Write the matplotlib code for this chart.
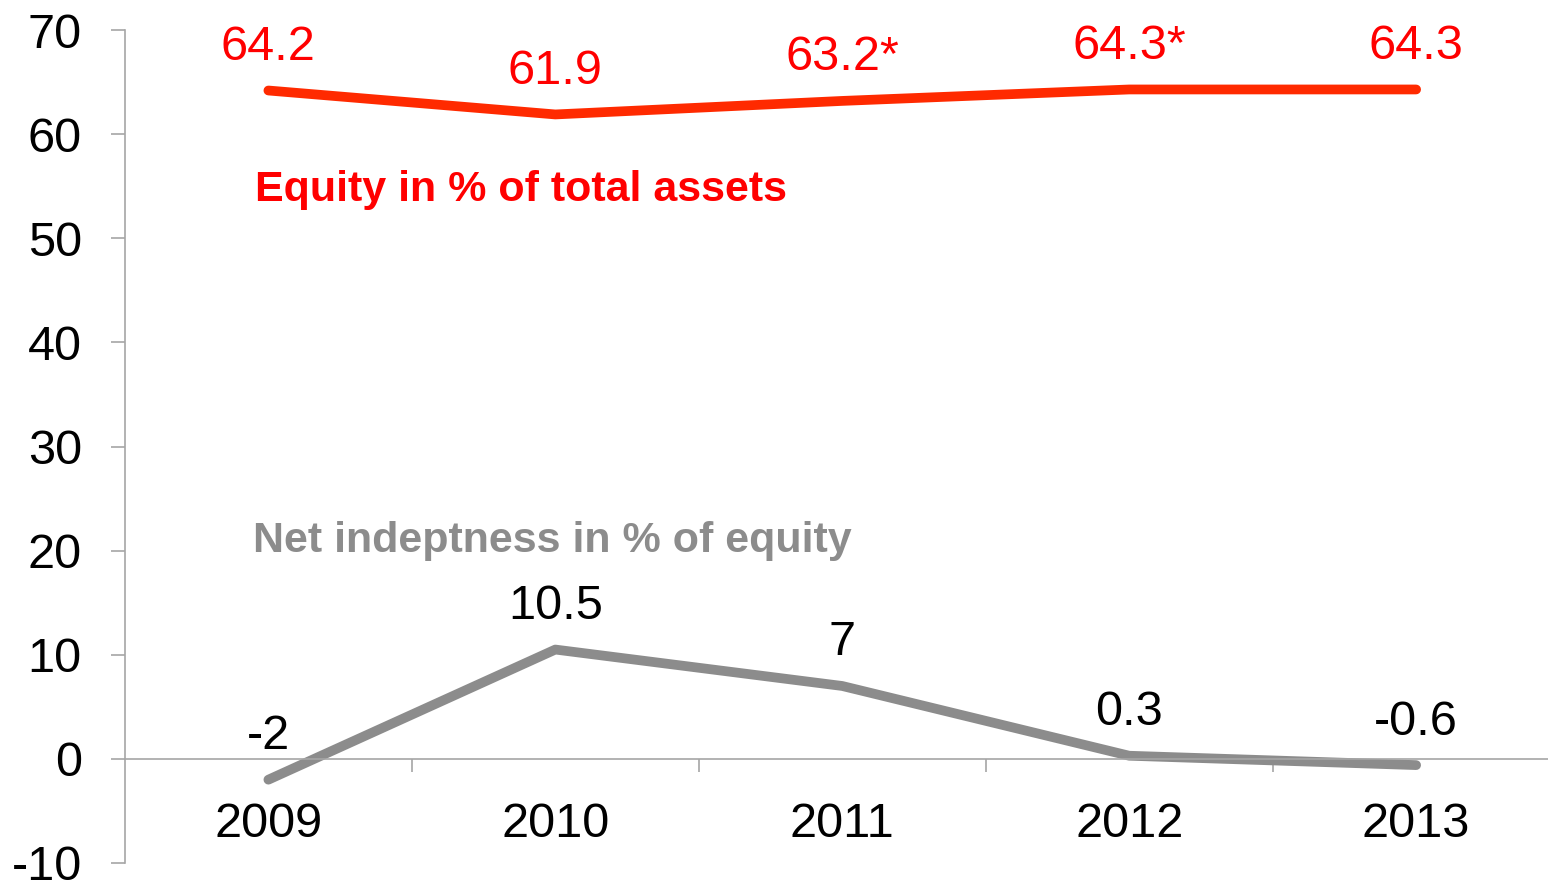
import matplotlib.pyplot as plt
from matplotlib.ticker import FixedLocator

plt.rcParams['font.family'] = ['Liberation Sans', 'DejaVu Sans']
plt.rcParams['axes.unicode_minus'] = False

years = ['2009', '2010', '2011', '2012', '2013']
equity = [64.2, 61.9, 63.2, 64.3, 64.3]
equity_labels = ['64.2', '61.9', '63.2*', '64.3*', '64.3']
debt = [-2, 10.5, 7, 0.3, -0.6]
debt_labels = ['-2', '10.5', '7', '0.3', '-0.6']

red_line = '#FF2A00'
red_text = '#FF0000'
gray = '#8C8C8C'
axis_col = '#A6A6A6'

fig = plt.figure(figsize=(15.48, 8.86), dpi=100)
ax = fig.add_axes([0.0807, 0.026, 0.919, 0.940])

x = list(range(len(years)))
ax.plot(x, equity, color=red_line, lw=7, solid_capstyle='round', solid_joinstyle='round')
ax.plot(x, debt, color=gray, lw=7, solid_capstyle='round', solid_joinstyle='round')

for xi, v, t in zip(x, equity, equity_labels):
    ax.annotate(t, (xi, v), xytext=(0, 22), textcoords='offset points',
                ha='center', va='baseline', fontsize=35, color=red_text)
for xi, v, t in zip(x, debt, debt_labels):
    ax.annotate(t, (xi, v), xytext=(0, 22), textcoords='offset points',
                ha='center', va='baseline', fontsize=35, color='black')

ax.text(-0.047, 54.6, 'Equity in % of total assets', fontsize=31, fontweight='bold',
        color=red_text, ha='left', va='center')
ax.text(-0.054, 20.9, 'Net indeptness in % of equity', fontsize=31, fontweight='bold',
        color=gray, ha='left', va='center')

ax.set_xlim(-0.5, 4.458)
ax.set_ylim(-10, 70)
ax.set_yticks(range(-10, 71, 10))
ax.tick_params(axis='y', labelsize=35, length=10, width=1.2, color=axis_col, pad=21)

ax.xaxis.set_major_locator(FixedLocator([0.5, 1.5, 2.5, 3.5]))
ax.xaxis.set_major_formatter(plt.NullFormatter())
ax.xaxis.set_minor_locator(FixedLocator(x))
ax.set_xticklabels(years, minor=True)
ax.tick_params(axis='x', which='major', direction='out', length=9, width=1.2, color=axis_col)
ax.tick_params(axis='x', which='minor', length=0, labelsize=35, pad=31)

ax.spines['bottom'].set_position(('data', 0))
ax.spines['bottom'].set_color(axis_col)
ax.spines['bottom'].set_linewidth(1.2)
ax.spines['left'].set_color(axis_col)
ax.spines['left'].set_linewidth(1.2)
ax.spines['top'].set_visible(False)
ax.spines['right'].set_visible(False)

fig.savefig('out.png', dpi=100)
